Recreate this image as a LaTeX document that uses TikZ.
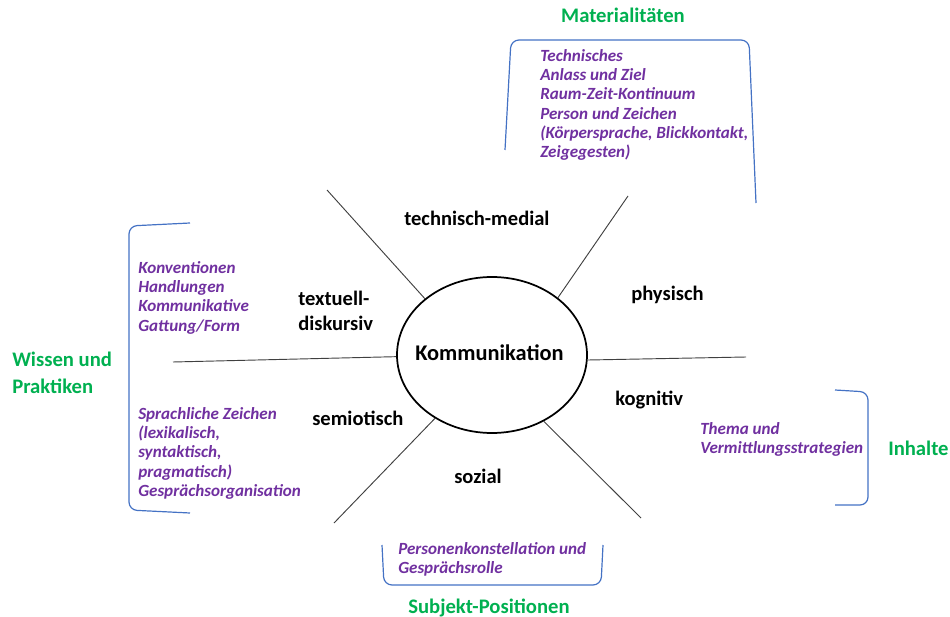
\documentclass[tikz,border=0pt]{standalone}
\usepackage{fontspec}
\setmainfont{Carlito}
\usetikzlibrary{shapes.geometric}
\definecolor{brk}{HTML}{4472C4}
\definecolor{pur}{HTML}{7030A0}
\definecolor{grn}{HTML}{00B050}
\begin{document}
\begin{tikzpicture}[x=0.75pt,y=-0.75pt,
  lab/.style={font=\fontsize{15.4}{18.75}\selectfont\bfseries, text=black, inner sep=0, align=left},
  cat/.style={font=\fontsize{15.5}{20}\selectfont\bfseries, text=grn, inner sep=0, align=left},
  item/.style={font=\fontsize{12.8}{14.5}\selectfont\bfseries\itshape, text=pur, inner sep=0, align=left, anchor=north west},
  spoke/.style={draw=black!75, line width=0.7pt},
  bracket/.style={draw=brk, line width=0.9pt, rounded corners=6pt}]
\useasboundingbox (0,0) rectangle (950,617);

% central ellipse
\node[ellipse, draw, line width=1.3pt, minimum width=142.5pt, minimum height=117pt, inner sep=0] (k) at (492,355) {};
\node[lab, font=\fontsize{16.8}{20}\selectfont\bfseries, anchor=base west] (kt) at (415,360) {Kommunikation};

% spoke ends
\coordinate (o1) at (327,190);
\coordinate (o2) at (628,196);
\coordinate (o3) at (173,362);
\coordinate (o4) at (746,357);
\coordinate (o5) at (334,523);
\coordinate (o6) at (641,518);
\draw[spoke] (k.140.8) -- (o1);
\draw[spoke] (k.41.2) -- (o2);
\draw[spoke] (k.181) -- (o3);
\draw[spoke] (k.357) -- (o4);
\draw[spoke] (k.228) -- (o5);
\draw[spoke] (k.308) -- (o6);

% dimension labels
\node[lab, anchor=base west] (l1) at (404,225) {technisch-medial};
\node[lab, anchor=north west] (l2) at (298,291) {textuell-\\diskursiv};
\node[lab, anchor=base west] (l3) at (631,300) {physisch};
\node[lab, anchor=base west] (l4) at (615,405) {kognitiv};
\node[lab, anchor=base west] (l5) at (312,425) {semiotisch};
\node[lab, anchor=base west] (l6) at (454,483) {sozial};

% brackets
\draw[bracket] (505,150) -- (511,40) -- (749,40) -- (756,203);
\draw[bracket] (190,223) -- (129,226) -- (129,510) -- (190,513);
\draw[bracket] (835,390) -- (868,392) -- (868,505) -- (835,505);
\draw[bracket] (382,545) -- (384,585) -- (601,585) -- (603,545);

% purple items
\node[item] (i1) at (540,49) {Technisches\\Anlass und Ziel\\Raum-Zeit-Kontinuum\\Person und Zeichen\\(Körpersprache, Blickkontakt,\\Zeigegesten)};
\node[item] (i2) at (138,261) {Konventionen\\Handlungen\\Kommunikative\\Gattung/Form};
\node[item] (i3) at (138,407) {Sprachliche Zeichen\\(lexikalisch,\\syntaktisch,\\pragmatisch)\\Gesprächsorganisation};
\node[item] (i4) at (700,422) {Thema und\\Vermittlungsstrategien};
\node[item] (i5) at (398,542) {Personenkonstellation und\\Gesprächsrolle};

% green categories
\node[cat, anchor=base] (c1) at (623,23) {Materialitäten};
\node[cat, anchor=north west] (c2) at (12,352) {Wissen und\\Praktiken};
\node[cat, anchor=base west] (c3) at (888,455) {Inhalte};
\node[cat, anchor=base] (c4) at (489,613) {Subjekt-Positionen};
\end{tikzpicture}
\end{document}
